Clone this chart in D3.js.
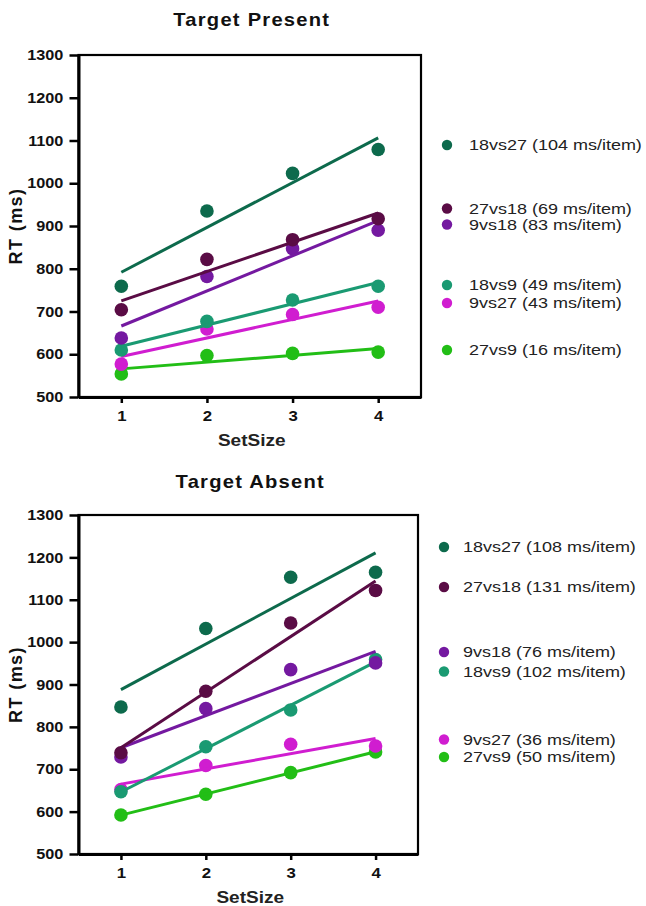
<!DOCTYPE html>
<html>
<head>
<meta charset="utf-8">
<script src="https://cdn.jsdelivr.net/npm/d3@7"></script>
<style>
  body { margin: 0; background: #fff; }
  svg { display: block; font-family: "Liberation Sans", Arial, sans-serif; }
</style>
</head>
<body>
<svg id="chart" width="646" height="906"></svg>
<script>
// ---------------- DATA ----------------
const setSizes = [1, 2, 3, 4];
const yTicks = [500, 600, 700, 800, 900, 1000, 1100, 1200, 1300];
const conditions = ["18vs27", "27vs18", "9vs18", "18vs9", "9vs27", "27vs9"];
const colors = ["#0d6a4c", "#5a0c45", "#7419a0", "#1a9a72", "#d01dd0", "#22be16"];

// Target Present mean RTs (ms) per set size, in condition order
const presentRT = [
  [759, 935, 1023, 1079],
  [704, 822, 868, 917],
  [638, 782, 847, 890],
  [610, 677, 727, 759],
  [577, 659, 693, 710],
  [554, 597, 602, 605]
];
const presentSlopes = [104, 69, 83, 49, 43, 16];

// Target Absent mean RTs (ms)
const absentRT = [
  [847, 1032, 1153, 1165],
  [739, 884, 1045, 1122],
  [729, 843, 935, 951],
  [647, 753, 840, 959],
  [652, 709, 759, 755],
  [592, 641, 692, 741]
];
const absentSlopes = [108, 131, 76, 102, 36, 50];

// ---------------- LAYOUT ----------------
const SX = 1.12; // horizontal text stretch of the original
const panels = [
  { title: "Target Present", rt: presentRT, slopes: presentSlopes,
    left: 78.5, right: 421, top: 55, bottom: 397, titleY: 26,
    legDotX: 447, legTextX: 469, legY: [145, 208.5, 224.5, 285, 303, 350] },
  { title: "Target Absent", rt: absentRT, slopes: absentSlopes,
    left: 78.5, right: 418, top: 515, bottom: 854, titleY: 488,
    legDotX: 444, legTextX: 463, legY: [547, 587, 652, 671.5, 739.5, 757] }
];

const svg = d3.select("#chart");
const fmt = d3.format("d");

function fit(xs, ys) {
  const mx = d3.mean(xs), my = d3.mean(ys);
  const b = d3.sum(xs.map((x, i) => (x - mx) * (ys[i] - my))) / d3.sum(xs.map(x => (x - mx) ** 2));
  return { b, a: my - b * mx };
}

panels.forEach(p => {
  const x = d3.scaleLinear().domain([0.5, 4.5]).range([p.left, p.right]);
  const y = d3.scaleLinear().domain([500, 1300]).range([p.bottom, p.top]);
  const g = svg.append("g");
  const cx = (p.left + p.right) / 2 + 2;

  // title
  g.append("text")
    .attr("transform", `translate(${cx},${p.titleY}) scale(${SX},1)`)
    .attr("text-anchor", "middle")
    .attr("font-size", 18).attr("font-weight", "bold")
    .attr("letter-spacing", "1.1px")
    .attr("fill", "#111")
    .text(p.title);

  // frame (top/right)
  g.append("rect")
    .attr("x", p.left).attr("y", p.top)
    .attr("width", p.right - p.left).attr("height", p.bottom - p.top)
    .attr("fill", "none").attr("stroke", "#000").attr("stroke-width", 2.2);

  // y axis
  const ya = g.append("g").attr("transform", `translate(${p.left},0)`)
    .call(d3.axisLeft(y).tickValues(yTicks).tickFormat(fmt).tickSize(9).tickSizeOuter(0).tickPadding(4.5));
  ya.select(".domain").attr("stroke-width", 3);
  ya.selectAll(".tick line").attr("stroke-width", 2.5);
  ya.selectAll(".tick text")
    .attr("font-size", 14.5).attr("font-weight", "bold").attr("fill", "#111")
    .attr("font-family", "Liberation Sans, Arial, sans-serif")
    .attr("transform", `scale(${SX},1)`);

  // x axis
  const xa = g.append("g").attr("transform", `translate(0,${p.bottom})`)
    .call(d3.axisBottom(x).tickValues(setSizes).tickFormat(fmt).tickSize(6).tickSizeOuter(0).tickPadding(7));
  xa.select(".domain").attr("stroke-width", 3);
  xa.selectAll(".tick line").attr("stroke-width", 2.5);
  xa.selectAll(".tick text")
    .attr("font-size", 15).attr("font-weight", "bold").attr("fill", "#111")
    .attr("font-family", "Liberation Sans, Arial, sans-serif")
    .attr("transform", `scale(${SX},1)`);

  // axis labels
  g.append("text")
    .attr("transform", `translate(${cx},${p.bottom + 49}) scale(${SX},1)`)
    .attr("text-anchor", "middle")
    .attr("font-size", 17).attr("font-weight", "bold").attr("fill", "#222")
    .text("SetSize");
  g.append("text")
    .attr("transform", `translate(21.5,${(p.top + p.bottom) / 2}) rotate(-90)`)
    .attr("text-anchor", "middle")
    .attr("font-size", 18).attr("font-weight", "bold").attr("fill", "#111")
    .attr("letter-spacing", "1.4px")
    .text("RT (ms)");

  // series (draw bottom-most first)
  const order = d3.range(conditions.length).reverse();
  order.forEach(i => {
    const ys = p.rt[i];
    const f = fit(setSizes, ys);
    const x0 = setSizes[0], x1 = setSizes[setSizes.length - 1];
    g.selectAll(null).data(ys).enter().append("circle")
      .attr("cx", (d, j) => x(setSizes[j]))
      .attr("cy", d => y(d))
      .attr("r", 6.8)
      .attr("fill", colors[i]);
    g.append("line")
      .attr("x1", x(x0)).attr("y1", y(f.a + f.b * x0))
      .attr("x2", x(x1)).attr("y2", y(f.a + f.b * x1))
      .attr("stroke", colors[i]).attr("stroke-width", 3);
  });

  // legend
  conditions.forEach((c, i) => {
    g.append("circle")
      .attr("cx", p.legDotX).attr("cy", p.legY[i]).attr("r", 5.2)
      .attr("fill", colors[i]);
    g.append("text")
      .attr("transform", `translate(${p.legTextX},${p.legY[i] + 5}) scale(1.2,1)`)
      .attr("font-size", 15).attr("fill", "#222")
      .text(`${c} (${p.slopes[i]} ms/item)`);
  });
});
</script>
</body>
</html>
